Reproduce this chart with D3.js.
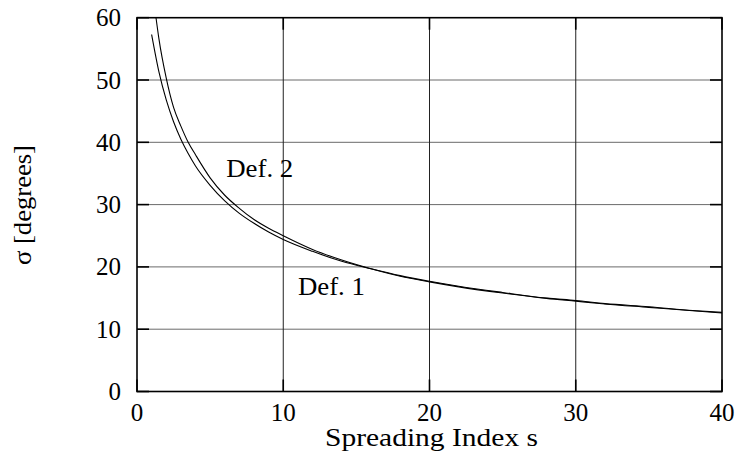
<!DOCTYPE html>
<html>
<head>
<meta charset="utf-8">
<script src="https://cdn.jsdelivr.net/npm/d3@7"></script>
<style>
html,body{margin:0;padding:0;background:#fff;}
svg{display:block;}
</style>
</head>
<body>
<svg id="chart" width="738" height="461"></svg>
<script>
// Data
const def1S = [1, 1.5, 2, 2.5, 3, 3.5, 4, 5, 6, 7, 8, 9, 10, 12, 14, 16, 18, 20, 22, 25, 28, 30, 32, 35, 38, 40];
const def1Sigma = [57.3, 51.3, 46.8, 43.3, 40.5, 38.2, 36.2, 33.1, 30.6, 28.6, 27.0, 25.6, 24.4, 22.5, 20.9, 19.7, 18.6, 17.7, 16.9, 15.9, 15.0, 14.6, 14.1, 13.6, 13.0, 12.7];
const def2S = [1.3, 1.5, 2, 2.5, 3, 3.5, 4, 5, 6, 7, 8, 9, 10, 12, 14, 16, 18, 20, 22, 25, 28, 30, 32, 35, 38, 40];
const def2Sigma = [60.0, 56.6, 50.3, 45.6, 42.6, 40.0, 38.0, 34.3, 31.5, 29.4, 27.6, 26.2, 25.0, 22.8, 21.1, 19.7, 18.5, 17.6, 16.8, 15.8, 14.95, 14.5, 14.05, 13.5, 12.95, 12.6];
const xTicks = [0, 10, 20, 30, 40];
const yTicks = [0, 10, 20, 30, 40, 50, 60];
const xLabel = "Spreading Index s";
const yLabel = "σ [degrees]";
const seriesLabels = [
  {text: "Def. 2", s: 6.1, v: 34.4},
  {text: "Def. 1", s: 11.0, v: 15.5}
];

const FONT = "'Liberation Serif', 'Times New Roman', serif";
const FS = 25;
const svg = d3.select("#chart");
const L = 137, R = 722, T = 17.7, B = 391.5;
const x = d3.scaleLinear().domain([0, 40]).range([L, R]);
const y = d3.scaleLinear().domain([0, 60]).range([B, T]);

// grid
svg.append("g").selectAll("line").data(yTicks.slice(1, -1)).join("line")
  .attr("x1", L).attr("x2", R).attr("y1", d => y(d)).attr("y2", d => y(d))
  .attr("stroke", "#6a6a6a").attr("stroke-width", 1);
svg.append("g").selectAll("line").data(xTicks.slice(1, -1)).join("line")
  .attr("y1", T).attr("y2", B).attr("x1", d => x(d)).attr("x2", d => x(d))
  .attr("stroke", "#222").attr("stroke-width", 1);

// tick marks (inward)
const tk = 12;
const tg = svg.append("g").attr("stroke", "#000").attr("stroke-width", 1.6);
yTicks.forEach(v => {
  tg.append("line").attr("x1", L).attr("x2", L + tk).attr("y1", y(v)).attr("y2", y(v));
  tg.append("line").attr("x1", R - tk).attr("x2", R).attr("y1", y(v)).attr("y2", y(v));
});
xTicks.forEach(v => {
  tg.append("line").attr("x1", x(v)).attr("x2", x(v)).attr("y1", B).attr("y2", B - tk);
  tg.append("line").attr("x1", x(v)).attr("x2", x(v)).attr("y1", T).attr("y2", T + tk);
});

// clip
svg.append("clipPath").attr("id", "clip").append("rect")
  .attr("x", L).attr("y", T).attr("width", R - L).attr("height", B - T);

const line = d3.line().curve(d3.curveMonotoneX).x(d => x(d[0])).y(d => y(d[1]));
const g = svg.append("g").attr("clip-path", "url(#clip)");
g.append("path").datum(def1S.map((s, i) => [s, def1Sigma[i]]))
  .attr("d", line).attr("fill", "none").attr("stroke", "#000").attr("stroke-width", 1.1);
g.append("path").datum(def2S.map((s, i) => [s, def2Sigma[i]]))
  .attr("d", line).attr("fill", "none").attr("stroke", "#000").attr("stroke-width", 1.1);

// frame
svg.append("rect").attr("x", L).attr("y", T).attr("width", R - L).attr("height", B - T)
  .attr("fill", "none").attr("stroke", "#000").attr("stroke-width", 1.6);

const txt = sel => sel.style("font-family", FONT).style("font-size", FS + "px").attr("fill", "#000");

// tick labels
svg.append("g").selectAll("text").data(yTicks).join("text")
  .attr("x", L - 16).attr("y", d => y(d) + 8.5)
  .attr("text-anchor", "end").call(txt).text(d => d);
svg.append("g").selectAll("text").data(xTicks).join("text")
  .attr("x", d => x(d)).attr("y", 421)
  .attr("text-anchor", "middle").call(txt).text(d => d);

// axis titles
svg.append("text").attr("x", (L + R) / 2 + 2).attr("y", 446)
  .attr("text-anchor", "middle").call(txt)
  .attr("textLength", 213).attr("lengthAdjust", "spacingAndGlyphs").text(xLabel);
svg.append("text").attr("transform", "translate(31,205) rotate(-90)")
  .attr("text-anchor", "middle").call(txt)
  .attr("textLength", 120).attr("lengthAdjust", "spacingAndGlyphs").text(yLabel);

// series labels
svg.append("g").selectAll("text").data(seriesLabels).join("text")
  .attr("x", d => x(d.s)).attr("y", d => y(d.v)).call(txt)
  .attr("textLength", 67).attr("lengthAdjust", "spacingAndGlyphs")
  .text(d => d.text);
</script>
</body>
</html>
